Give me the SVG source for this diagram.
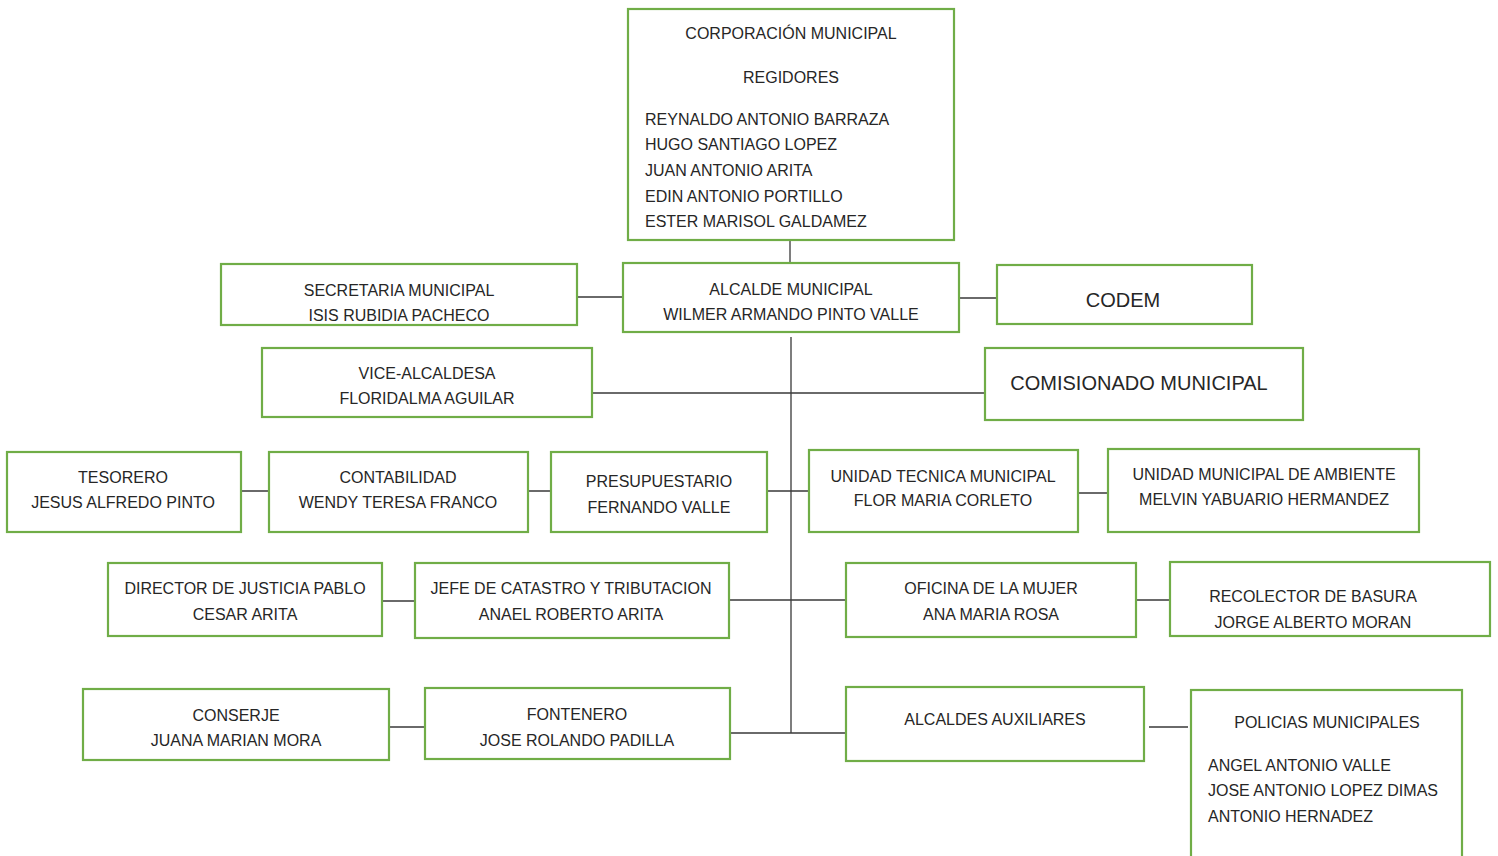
<svg xmlns="http://www.w3.org/2000/svg" width="1498" height="856" viewBox="0 0 1498 856">
<style>
.b{fill:#fff;stroke:#70AD47;stroke-width:2.2}
.t{font-family:"Liberation Sans",Arial,sans-serif;font-size:16px;fill:#262626;text-anchor:middle}
.l{text-anchor:start}
.big{font-size:20px}
.c{stroke:#3a3a3a;stroke-width:1.3;fill:none}
</style>
<rect width="1498" height="856" fill="#fff"/>
<g id="connectors">
<path class="c" d="M790 240V263M577 297H623M959 298H997M791 337V733M592 393H985M241 491H269M528 491H551M767 491H809M1078 493H1108M382 601H415M729 600H846M1136 600H1170M389 727H425M730 733H846M1149 727H1188"/>
</g>
<g id="corporacion"><rect class="b" x="628" y="9" width="326" height="231"/>
<text class="t" x="791" y="39">CORPORACIÓN MUNICIPAL</text>
<text class="t" x="791" y="83">REGIDORES</text>
<text class="t l" x="645" y="125">REYNALDO ANTONIO BARRAZA</text>
<text class="t l" x="645" y="150">HUGO SANTIAGO LOPEZ</text>
<text class="t l" x="645" y="176">JUAN ANTONIO ARITA</text>
<text class="t l" x="645" y="202">EDIN ANTONIO PORTILLO</text>
<text class="t l" x="645" y="227">ESTER MARISOL GALDAMEZ</text></g>
<g id="alcalde"><rect class="b" x="623" y="263" width="336" height="69"/>
<text class="t" x="791" y="295">ALCALDE MUNICIPAL</text>
<text class="t" x="791" y="320">WILMER ARMANDO PINTO VALLE</text></g>
<g id="secretaria"><rect class="b" x="221" y="264" width="356" height="61"/>
<text class="t" x="399" y="296">SECRETARIA MUNICIPAL</text>
<text class="t" x="399" y="321">ISIS RUBIDIA PACHECO</text></g>
<g id="codem"><rect class="b" x="997" y="265" width="255" height="59"/>
<text class="t big" x="1123" y="307">CODEM</text></g>
<g id="vice"><rect class="b" x="262" y="348" width="330" height="69"/>
<text class="t" x="427" y="379">VICE-ALCALDESA</text>
<text class="t" x="427" y="404">FLORIDALMA AGUILAR</text></g>
<g id="comisionado"><rect class="b" x="985" y="348" width="318" height="72"/>
<text class="t big" x="1139" y="390">COMISIONADO MUNICIPAL</text></g>
<g id="tesorero"><rect class="b" x="7" y="452" width="234" height="80"/>
<text class="t" x="123" y="483">TESORERO</text>
<text class="t" x="123" y="508">JESUS ALFREDO PINTO</text></g>
<g id="contabilidad"><rect class="b" x="269" y="452" width="259" height="80"/>
<text class="t" x="398" y="483">CONTABILIDAD</text>
<text class="t" x="398" y="508">WENDY TERESA FRANCO</text></g>
<g id="presupuestario"><rect class="b" x="551" y="452" width="216" height="80"/>
<text class="t" x="659" y="487">PRESUPUESTARIO</text>
<text class="t" x="659" y="513">FERNANDO VALLE</text></g>
<g id="unidad-tecnica"><rect class="b" x="809" y="450" width="269" height="82"/>
<text class="t" x="943" y="482">UNIDAD TECNICA MUNICIPAL</text>
<text class="t" x="943" y="506">FLOR MARIA CORLETO</text></g>
<g id="unidad-ambiente"><rect class="b" x="1108" y="449" width="311" height="83"/>
<text class="t" x="1264" y="480">UNIDAD MUNICIPAL DE AMBIENTE</text>
<text class="t" x="1264" y="505">MELVIN YABUARIO HERMANDEZ</text></g>
<g id="director-justicia"><rect class="b" x="108" y="563" width="274" height="73"/>
<text class="t" x="245" y="594">DIRECTOR DE JUSTICIA PABLO</text>
<text class="t" x="245" y="620">CESAR ARITA</text></g>
<g id="catastro"><rect class="b" x="415" y="563" width="314" height="75"/>
<text class="t" x="571" y="594">JEFE DE CATASTRO Y TRIBUTACION</text>
<text class="t" x="571" y="620">ANAEL ROBERTO ARITA</text></g>
<g id="oficina-mujer"><rect class="b" x="846" y="563" width="290" height="74"/>
<text class="t" x="991" y="594">OFICINA DE LA MUJER</text>
<text class="t" x="991" y="620">ANA MARIA ROSA</text></g>
<g id="recolector"><rect class="b" x="1170" y="562" width="320" height="74"/>
<text class="t" x="1313" y="602">RECOLECTOR DE BASURA</text>
<text class="t" x="1313" y="628">JORGE ALBERTO MORAN</text></g>
<g id="conserje"><rect class="b" x="83" y="689" width="306" height="71"/>
<text class="t" x="236" y="721">CONSERJE</text>
<text class="t" x="236" y="746">JUANA MARIAN MORA</text></g>
<g id="fontenero"><rect class="b" x="425" y="688" width="305" height="71"/>
<text class="t" x="577" y="720">FONTENERO</text>
<text class="t" x="577" y="746">JOSE ROLANDO PADILLA</text></g>
<g id="alcaldes-auxiliares"><rect class="b" x="846" y="687" width="298" height="74"/>
<text class="t" x="995" y="725">ALCALDES AUXILIARES</text></g>
<g id="policias"><rect class="b" x="1191" y="690" width="271" height="168"/>
<text class="t" x="1327" y="728">POLICIAS MUNICIPALES</text>
<text class="t l" x="1208" y="771">ANGEL ANTONIO VALLE</text>
<text class="t l" x="1208" y="796">JOSE ANTONIO LOPEZ DIMAS</text>
<text class="t l" x="1208" y="822">ANTONIO HERNADEZ</text></g>
</svg>
